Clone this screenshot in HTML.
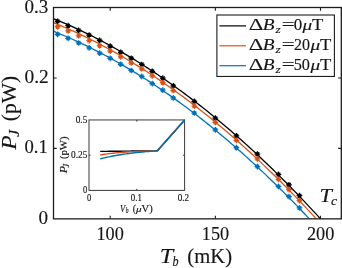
<!DOCTYPE html>
<html><head><meta charset="utf-8"><title>fig</title>
<style>
html,body{margin:0;padding:0;background:#fff;}
body{width:342px;height:268px;overflow:hidden;}
svg{display:block;will-change:transform;}
text{font-family:"Liberation Serif",serif;fill:#161616;stroke:#161616;stroke-width:0.15px;}
.i{font-style:italic;}
.s text{stroke-width:0.15px;}
</style></head><body>
<svg width="342" height="268" viewBox="0 0 342 268">
<rect x="0" y="0" width="342" height="268" fill="#fff"/>

<clipPath id="c"><rect x="53.5" y="7.5" width="287.8" height="211.35"/></clipPath>
<g clip-path="url(#c)">
<polyline points="52.37,18.20 54.47,19.04 56.57,19.90 58.68,20.76 60.78,21.64 62.88,22.53 64.99,23.43 67.09,24.34 69.19,25.27 71.29,26.20 73.40,27.15 75.50,28.11 77.60,29.08 79.71,30.06 81.81,31.06 83.91,32.06 86.02,33.08 88.12,34.10 90.22,35.14 92.32,36.20 94.43,37.26 96.53,38.33 98.63,39.42 100.74,40.52 102.84,41.62 104.94,42.74 107.05,43.88 109.15,45.02 111.25,46.17 113.35,47.34 115.46,48.52 117.56,49.71 119.66,50.91 121.77,52.12 123.87,53.35 125.97,54.58 128.08,55.83 130.18,57.09 132.28,58.36 134.38,59.64 136.49,60.94 138.59,62.24 140.69,63.56 142.80,64.89 144.90,66.23 147.00,67.58 149.11,68.94 151.21,70.31 153.31,71.70 155.41,73.10 157.52,74.51 159.62,75.93 161.72,77.36 163.83,78.80 165.93,80.26 168.03,81.73 170.14,83.20 172.24,84.69 174.34,86.20 176.44,87.71 178.55,89.23 180.65,90.77 182.75,92.32 184.86,93.88 186.96,95.45 189.06,97.03 191.17,98.62 193.27,100.23 195.37,101.85 197.47,103.48 199.58,105.12 201.68,106.77 203.78,108.43 205.89,110.11 207.99,111.79 210.09,113.49 212.20,115.20 214.30,116.92 216.40,118.65 218.50,120.40 220.61,122.15 222.71,123.92 224.81,125.70 226.92,127.49 229.02,129.29 231.12,131.10 233.23,132.93 235.33,134.77 237.43,136.61 239.53,138.47 241.64,140.34 243.74,142.23 245.84,144.12 247.95,146.03 250.05,147.94 252.15,149.87 254.26,151.81 256.36,153.77 258.46,155.73 260.56,157.70 262.67,159.69 264.77,161.69 266.87,163.70 268.98,165.72 271.08,167.75 273.18,169.80 275.29,171.85 277.39,173.92 279.49,176.00 281.59,178.09 283.70,180.19 285.80,182.31 287.90,184.43 290.01,186.57 292.11,188.72 294.21,190.88 296.32,193.05 298.42,195.23 300.52,197.43 302.62,199.63 304.73,201.85 306.83,204.08 308.93,206.32 311.04,208.57 313.14,210.84 315.24,213.11 317.35,215.40 319.45,217.70 320.50,218.85" fill="none" stroke="#000000" stroke-width="1.3"/>
<polyline points="52.37,22.23 54.47,23.08 56.57,23.94 58.68,24.80 60.78,25.68 62.88,26.58 64.99,27.48 67.09,28.40 69.19,29.32 71.29,30.26 73.40,31.21 75.50,32.17 77.60,33.14 79.71,34.13 81.81,35.13 83.91,36.13 86.02,37.15 88.12,38.18 90.22,39.23 92.32,40.28 94.43,41.35 96.53,42.42 98.63,43.51 100.74,44.61 102.84,45.72 104.94,46.85 107.05,47.98 109.15,49.13 111.25,50.29 113.35,51.46 115.46,52.64 117.56,53.83 119.66,55.04 121.77,56.25 123.87,57.48 125.97,58.72 128.08,59.97 130.18,61.23 132.28,62.51 134.38,63.79 136.49,65.09 138.59,66.40 140.69,67.72 142.80,69.05 144.90,70.40 147.00,71.75 149.11,73.12 151.21,74.50 153.31,75.89 155.41,77.29 157.52,78.70 159.62,80.13 161.72,81.56 163.83,83.01 165.93,84.47 168.03,85.94 170.14,87.42 172.24,88.92 174.34,90.42 176.44,91.94 178.55,93.47 180.65,95.01 182.75,96.56 184.86,98.13 186.96,99.70 189.06,101.29 191.17,102.89 193.27,104.50 195.37,106.12 197.47,107.75 199.58,109.40 201.68,111.06 203.78,112.72 205.89,114.40 207.99,116.09 210.09,117.80 212.20,119.51 214.30,121.24 216.40,122.97 218.50,124.72 220.61,126.48 222.71,128.26 224.81,130.04 226.92,131.84 229.02,133.64 231.12,135.46 233.23,137.29 235.33,139.13 237.43,140.99 239.53,142.85 241.64,144.73 243.74,146.62 245.84,148.52 247.95,150.43 250.05,152.35 252.15,154.28 254.26,156.23 256.36,158.19 258.46,160.16 260.56,162.14 262.67,164.13 264.77,166.13 266.87,168.15 268.98,170.18 271.08,172.22 273.18,174.27 275.29,176.33 277.39,178.40 279.49,180.49 281.59,182.58 283.70,184.69 285.80,186.81 287.90,188.94 290.01,191.09 292.11,193.24 294.21,195.41 296.32,197.58 298.42,199.77 300.52,201.97 302.62,204.19 304.73,206.41 306.83,208.65 308.93,210.89 311.04,213.15 313.14,215.42 315.24,217.70 316.29,218.85" fill="none" stroke="#d95319" stroke-width="1.3"/>
<polyline points="52.37,30.80 54.47,31.64 56.57,32.49 58.68,33.35 60.78,34.23 62.88,35.12 64.99,36.02 67.09,36.93 69.19,37.85 71.29,38.78 73.40,39.72 75.50,40.68 77.60,41.65 79.71,42.63 81.81,43.62 83.91,44.62 86.02,45.63 88.12,46.66 90.22,47.70 92.32,48.74 94.43,49.80 96.53,50.87 98.63,51.96 100.74,53.05 102.84,54.16 104.94,55.27 107.05,56.40 109.15,57.54 111.25,58.70 113.35,59.86 115.46,61.03 117.56,62.22 119.66,63.42 121.77,64.63 123.87,65.85 125.97,67.08 128.08,68.33 130.18,69.58 132.28,70.85 134.38,72.13 136.49,73.42 138.59,74.72 140.69,76.03 142.80,77.36 144.90,78.69 147.00,80.04 149.11,81.40 151.21,82.77 153.31,84.15 155.41,85.55 157.52,86.95 159.62,88.37 161.72,89.80 163.83,91.24 165.93,92.69 168.03,94.15 170.14,95.62 172.24,97.11 174.34,98.61 176.44,100.12 178.55,101.64 180.65,103.17 182.75,104.71 184.86,106.27 186.96,107.83 189.06,109.41 191.17,111.00 193.27,112.60 195.37,114.22 197.47,115.84 199.58,117.48 201.68,119.12 203.78,120.78 205.89,122.45 207.99,124.13 210.09,125.83 212.20,127.53 214.30,129.25 216.40,130.98 218.50,132.71 220.61,134.47 222.71,136.23 224.81,138.00 226.92,139.79 229.02,141.58 231.12,143.39 233.23,145.21 235.33,147.04 237.43,148.89 239.53,150.74 241.64,152.61 243.74,154.48 245.84,156.37 247.95,158.27 250.05,160.19 252.15,162.11 254.26,164.05 256.36,165.99 258.46,167.95 260.56,169.92 262.67,171.90 264.77,173.89 266.87,175.90 268.98,177.91 271.08,179.94 273.18,181.98 275.29,184.03 277.39,186.09 279.49,188.17 281.59,190.25 283.70,192.35 285.80,194.45 287.90,196.57 290.01,198.70 292.11,200.85 294.21,203.00 296.32,205.17 298.42,207.34 300.52,209.53 302.62,211.73 304.73,213.94 306.83,216.17 308.93,218.40 309.35,218.85" fill="none" stroke="#0072bd" stroke-width="1.3"/>
<path d="M54.77 21.25L60.48 21.25M55.81 19.44L59.44 23.07M57.62 18.40L57.62 24.10M59.44 19.44L55.81 23.07" stroke="#000000" stroke-width="1.25" fill="none"/>
<path d="M65.29 25.63L70.99 25.63M66.33 23.82L69.95 27.45M68.14 22.78L68.14 28.48M69.95 23.82L66.33 27.45" stroke="#000000" stroke-width="1.25" fill="none"/>
<path d="M75.81 30.44L81.50 30.44M76.84 28.63L80.47 32.26M78.66 27.59L78.66 33.29M80.47 28.63L76.84 32.26" stroke="#000000" stroke-width="1.25" fill="none"/>
<path d="M86.32 35.10L92.02 35.10M87.36 33.29L90.98 36.92M89.17 32.25L89.17 37.95M90.98 33.29L87.36 36.92" stroke="#000000" stroke-width="1.25" fill="none"/>
<path d="M96.84 40.41L102.53 40.41M97.87 38.59L101.50 42.22M99.69 37.56L99.69 43.26M101.50 38.59L97.87 42.22" stroke="#000000" stroke-width="1.25" fill="none"/>
<path d="M107.35 46.21L113.05 46.21M108.39 44.39L112.01 48.02M110.20 43.36L110.20 49.06M112.01 44.39L108.39 48.02" stroke="#000000" stroke-width="1.25" fill="none"/>
<path d="M117.87 52.30L123.56 52.30M118.90 50.49L122.53 54.11M120.72 49.45L120.72 55.15M122.53 50.49L118.90 54.11" stroke="#000000" stroke-width="1.25" fill="none"/>
<path d="M128.38 58.23L134.08 58.23M129.42 56.42L133.04 60.04M131.23 55.38L131.23 61.08M133.04 56.42L129.42 60.04" stroke="#000000" stroke-width="1.25" fill="none"/>
<path d="M138.90 64.48L144.59 64.48M139.93 62.67L143.56 66.30M141.75 61.63L141.75 67.33M143.56 62.67L139.93 66.30" stroke="#000000" stroke-width="1.25" fill="none"/>
<path d="M149.41 71.31L155.11 71.31M150.45 69.50L154.07 73.12M152.26 68.46L152.26 74.16M154.07 69.50L150.45 73.12" stroke="#000000" stroke-width="1.25" fill="none"/>
<path d="M159.93 78.22L165.62 78.22M160.96 76.40L164.59 80.03M162.78 75.37L162.78 81.07M164.59 76.40L160.96 80.03" stroke="#000000" stroke-width="1.25" fill="none"/>
<path d="M170.44 85.76L176.14 85.76M171.48 83.95L175.10 87.57M173.29 82.91L173.29 88.61M175.10 83.95L171.48 87.57" stroke="#000000" stroke-width="1.25" fill="none"/>
<path d="M191.47 101.45L197.17 101.45M192.51 99.63L196.13 103.26M194.32 98.60L194.32 104.30M196.13 99.63L192.51 103.26" stroke="#000000" stroke-width="1.25" fill="none"/>
<path d="M212.50 118.19L218.20 118.19M213.54 116.37L217.16 120.00M215.35 115.34L215.35 121.04M217.16 116.37L213.54 120.00" stroke="#000000" stroke-width="1.25" fill="none"/>
<path d="M233.53 135.78L239.23 135.78M234.57 133.96L238.19 137.59M236.38 132.93L236.38 138.63M238.19 133.96L234.57 137.59" stroke="#000000" stroke-width="1.25" fill="none"/>
<path d="M254.56 154.04L260.26 154.04M255.60 152.22L259.22 155.85M257.41 151.19L257.41 156.89M259.22 152.22L255.60 155.85" stroke="#000000" stroke-width="1.25" fill="none"/>
<path d="M275.59 174.40L281.29 174.40M276.63 172.59L280.25 176.22M278.44 171.55L278.44 177.25M280.25 172.59L276.63 176.22" stroke="#000000" stroke-width="1.25" fill="none"/>
<path d="M286.11 184.87L291.81 184.87M287.14 183.05L290.77 186.68M288.96 182.02L288.96 187.72M290.77 183.05L287.14 186.68" stroke="#000000" stroke-width="1.25" fill="none"/>
<path d="M296.62 195.69L302.32 195.69M297.66 193.88L301.28 197.50M299.47 192.84L299.47 198.54M301.28 193.88L297.66 197.50" stroke="#000000" stroke-width="1.25" fill="none"/>
<path d="M54.77 26.66L60.48 26.66M55.81 24.84L59.44 28.47M57.62 23.81L57.62 29.51M59.44 24.84L55.81 28.47" stroke="#d95319" stroke-width="1.25" fill="none"/>
<path d="M65.29 30.99L70.99 30.99M66.33 29.17L69.95 32.80M68.14 28.14L68.14 33.84M69.95 29.17L66.33 32.80" stroke="#d95319" stroke-width="1.25" fill="none"/>
<path d="M75.81 35.75L81.50 35.75M76.84 33.94L80.47 37.57M78.66 32.90L78.66 38.60M80.47 33.94L76.84 37.57" stroke="#d95319" stroke-width="1.25" fill="none"/>
<path d="M86.32 40.58L92.02 40.58M87.36 38.76L90.98 42.39M89.17 37.73L89.17 43.43M90.98 38.76L87.36 42.39" stroke="#d95319" stroke-width="1.25" fill="none"/>
<path d="M96.84 45.73L102.53 45.73M97.87 43.92L101.50 47.54M99.69 42.88L99.69 48.58M101.50 43.92L97.87 47.54" stroke="#d95319" stroke-width="1.25" fill="none"/>
<path d="M107.35 51.08L113.05 51.08M108.39 49.26L112.01 52.89M110.20 48.23L110.20 53.93M112.01 49.26L108.39 52.89" stroke="#d95319" stroke-width="1.25" fill="none"/>
<path d="M117.87 56.83L123.56 56.83M118.90 55.01L122.53 58.64M120.72 53.98L120.72 59.68M122.53 55.01L118.90 58.64" stroke="#d95319" stroke-width="1.25" fill="none"/>
<path d="M128.38 62.88L134.08 62.88M129.42 61.06L133.04 64.69M131.23 60.03L131.23 65.73M133.04 61.06L129.42 64.69" stroke="#d95319" stroke-width="1.25" fill="none"/>
<path d="M138.90 68.94L144.59 68.94M139.93 67.13L143.56 70.76M141.75 66.09L141.75 71.79M143.56 67.13L139.93 70.76" stroke="#d95319" stroke-width="1.25" fill="none"/>
<path d="M149.41 75.80L155.11 75.80M150.45 73.99L154.07 77.61M152.26 72.95L152.26 78.65M154.07 73.99L150.45 77.61" stroke="#d95319" stroke-width="1.25" fill="none"/>
<path d="M159.93 82.64L165.62 82.64M160.96 80.82L164.59 84.45M162.78 79.79L162.78 85.49M164.59 80.82L160.96 84.45" stroke="#d95319" stroke-width="1.25" fill="none"/>
<path d="M170.44 90.51L176.14 90.51M171.48 88.70L175.10 92.32M173.29 87.66L173.29 93.36M175.10 88.70L171.48 92.32" stroke="#d95319" stroke-width="1.25" fill="none"/>
<path d="M191.47 106.10L197.17 106.10M192.51 104.28L196.13 107.91M194.32 103.25L194.32 108.95M196.13 104.28L192.51 107.91" stroke="#d95319" stroke-width="1.25" fill="none"/>
<path d="M212.50 122.46L218.20 122.46M213.54 120.65L217.16 124.27M215.35 119.61L215.35 125.31M217.16 120.65L213.54 124.27" stroke="#d95319" stroke-width="1.25" fill="none"/>
<path d="M233.53 140.29L239.23 140.29M234.57 138.48L238.19 142.11M236.38 137.44L236.38 143.14M238.19 138.48L234.57 142.11" stroke="#d95319" stroke-width="1.25" fill="none"/>
<path d="M254.56 158.87L260.26 158.87M255.60 157.05L259.22 160.68M257.41 156.02L257.41 161.72M259.22 157.05L255.60 160.68" stroke="#d95319" stroke-width="1.25" fill="none"/>
<path d="M275.59 179.30L281.29 179.30M276.63 177.48L280.25 181.11M278.44 176.45L278.44 182.15M280.25 177.48L276.63 181.11" stroke="#d95319" stroke-width="1.25" fill="none"/>
<path d="M286.11 189.61L291.81 189.61M287.14 187.79L290.77 191.42M288.96 186.76L288.96 192.46M290.77 187.79L287.14 191.42" stroke="#d95319" stroke-width="1.25" fill="none"/>
<path d="M296.62 200.60L302.32 200.60M297.66 198.79L301.28 202.42M299.47 197.75L299.47 203.45M301.28 198.79L297.66 202.42" stroke="#d95319" stroke-width="1.25" fill="none"/>
<path d="M54.77 34.32L60.48 34.32M55.81 32.51L59.44 36.14M57.62 31.47L57.62 37.17M59.44 32.51L55.81 36.14" stroke="#0072bd" stroke-width="1.25" fill="none"/>
<path d="M65.29 38.28L70.99 38.28M66.33 36.46L69.95 40.09M68.14 35.43L68.14 41.13M69.95 36.46L66.33 40.09" stroke="#0072bd" stroke-width="1.25" fill="none"/>
<path d="M75.81 42.98L81.50 42.98M76.84 41.17L80.47 44.80M78.66 40.13L78.66 45.83M80.47 41.17L76.84 44.80" stroke="#0072bd" stroke-width="1.25" fill="none"/>
<path d="M86.32 47.81L92.02 47.81M87.36 46.00L90.98 49.63M89.17 44.96L89.17 50.66M90.98 46.00L87.36 49.63" stroke="#0072bd" stroke-width="1.25" fill="none"/>
<path d="M96.84 53.22L102.53 53.22M97.87 51.40L101.50 55.03M99.69 50.37L99.69 56.07M101.50 51.40L97.87 55.03" stroke="#0072bd" stroke-width="1.25" fill="none"/>
<path d="M107.35 58.32L113.05 58.32M108.39 56.51L112.01 60.14M110.20 55.47L110.20 61.17M112.01 56.51L108.39 60.14" stroke="#0072bd" stroke-width="1.25" fill="none"/>
<path d="M117.87 64.25L123.56 64.25M118.90 62.44L122.53 66.06M120.72 61.40L120.72 67.10M122.53 62.44L118.90 66.06" stroke="#0072bd" stroke-width="1.25" fill="none"/>
<path d="M128.38 70.48L134.08 70.48M129.42 68.66L133.04 72.29M131.23 67.63L131.23 73.33M133.04 68.66L129.42 72.29" stroke="#0072bd" stroke-width="1.25" fill="none"/>
<path d="M138.90 76.47L144.59 76.47M139.93 74.66L143.56 78.29M141.75 73.62L141.75 79.32M143.56 74.66L139.93 78.29" stroke="#0072bd" stroke-width="1.25" fill="none"/>
<path d="M149.41 83.54L155.11 83.54M150.45 81.72L154.07 85.35M152.26 80.69L152.26 86.39M154.07 81.72L150.45 85.35" stroke="#0072bd" stroke-width="1.25" fill="none"/>
<path d="M159.93 90.16L165.62 90.16M160.96 88.35L164.59 91.98M162.78 87.31L162.78 93.01M164.59 88.35L160.96 91.98" stroke="#0072bd" stroke-width="1.25" fill="none"/>
<path d="M170.44 97.89L176.14 97.89M171.48 96.07L175.10 99.70M173.29 95.04L173.29 100.74M175.10 96.07L171.48 99.70" stroke="#0072bd" stroke-width="1.25" fill="none"/>
<path d="M191.47 113.01L197.17 113.01M192.51 111.19L196.13 114.82M194.32 110.16L194.32 115.86M196.13 111.19L192.51 114.82" stroke="#0072bd" stroke-width="1.25" fill="none"/>
<path d="M212.50 129.84L218.20 129.84M213.54 128.03L217.16 131.65M215.35 126.99L215.35 132.69M217.16 128.03L213.54 131.65" stroke="#0072bd" stroke-width="1.25" fill="none"/>
<path d="M233.53 147.65L239.23 147.65M234.57 145.83L238.19 149.46M236.38 144.80L236.38 150.50M238.19 145.83L234.57 149.46" stroke="#0072bd" stroke-width="1.25" fill="none"/>
<path d="M254.56 166.54L260.26 166.54M255.60 164.72L259.22 168.35M257.41 163.69L257.41 169.39M259.22 164.72L255.60 168.35" stroke="#0072bd" stroke-width="1.25" fill="none"/>
<path d="M275.59 186.41L281.29 186.41M276.63 184.59L280.25 188.22M278.44 183.56L278.44 189.26M280.25 184.59L276.63 188.22" stroke="#0072bd" stroke-width="1.25" fill="none"/>
<path d="M286.11 196.56L291.81 196.56M287.14 194.74L290.77 198.37M288.96 193.71L288.96 199.41M290.77 194.74L287.14 198.37" stroke="#0072bd" stroke-width="1.25" fill="none"/>
<path d="M296.62 207.88L302.32 207.88M297.66 206.07L301.28 209.69M299.47 205.03L299.47 210.73M301.28 206.07L297.66 209.69" stroke="#0072bd" stroke-width="1.25" fill="none"/>
</g>
<rect x="53.5" y="7.5" width="287.8" height="211.35" fill="none" stroke="#1c1c1c" stroke-width="1.3"/>
<path d="M110.20 218.85V215.65M110.20 7.5V10.7M215.35 218.85V215.65M215.35 7.5V10.7M320.50 218.85V215.65M320.50 7.5V10.7M53.5 148.40H56.7M341.3 148.40H338.1M53.5 77.95H56.7M341.3 77.95H338.1" stroke="#1c1c1c" stroke-width="1.1" fill="none"/>
<text transform="translate(96.50,239.60) scale(0.971,1)" font-size="18.80">100</text>
<text transform="translate(201.81,239.60) scale(0.967,1)" font-size="18.80">150</text>
<text transform="translate(306.88,239.60) scale(0.972,1)" font-size="18.80">200</text>
<text transform="translate(38.59,223.70) scale(1.014,1)" font-size="18.80">0</text>
<text transform="translate(24.50,153.25) scale(0.992,1)" font-size="18.80">0.1</text>
<text transform="translate(24.47,82.80) scale(1.030,1)" font-size="18.80">0.2</text>
<text transform="translate(24.49,12.65) scale(1.012,1)" font-size="18.80">0.3</text>
<text class="i" transform="translate(159.83,263.00) scale(1.148,1)" font-size="21.07">T</text>
<text class="i" transform="translate(172.45,265.60) scale(0.853,1)" font-size="14.10">b</text>
<text transform="translate(187.37,263.00) scale(0.980,1)" font-size="21.07">(mK)</text>
<g transform="translate(15.6,149.9) rotate(-90)">
<text class="i" transform="translate(0.22,0.00) scale(1.079,1)" font-size="21.83">P</text>
<text class="i" transform="translate(12.96,3.10) scale(1.065,1)" font-size="15.27">J</text>
<text transform="translate(28.63,0.00) scale(0.985,1)" font-size="21.83">(pW)</text>
</g>
<text class="i" transform="translate(319.55,201.90) scale(1.221,1)" font-size="18.32">T</text>
<text class="i" transform="translate(331.09,204.70) scale(1.070,1)" font-size="12.77">c</text>
<rect x="216.9" y="15" width="117.50" height="61.45" fill="#fff" stroke="#1c1c1c" stroke-width="1.1"/>
<path d="M219.4 25.90H246.0" stroke="#000000" stroke-width="1.2"/>
<text transform="translate(248.75,30.20) scale(1.328,1)" font-size="17.12">Δ</text>
<text class="i" transform="translate(262.81,30.20) scale(1.119,1)" font-size="17.25">B</text>
<text class="i" transform="translate(275.44,32.90) scale(1.195,1)" font-size="11.30">z</text>
<text transform="translate(281.75,30.20) scale(1.354,1)" font-size="16.99">=</text>
<text transform="translate(293.76,30.20) scale(0.997,1)" font-size="16.99">0</text>
<text class="i" transform="translate(302.40,30.20) scale(1.265,1)" font-size="15.22">μ</text>
<text transform="translate(311.98,30.20) scale(1.074,1)" font-size="17.25">T</text>
<path d="M219.4 45.80H246.0" stroke="#d95319" stroke-width="1.2"/>
<text transform="translate(248.75,50.10) scale(1.328,1)" font-size="17.12">Δ</text>
<text class="i" transform="translate(262.81,50.10) scale(1.119,1)" font-size="17.25">B</text>
<text class="i" transform="translate(275.44,52.80) scale(1.195,1)" font-size="11.30">z</text>
<text transform="translate(281.75,50.10) scale(1.354,1)" font-size="16.99">=</text>
<text transform="translate(293.88,50.10) scale(0.943,1)" font-size="16.99">20</text>
<text class="i" transform="translate(310.50,50.10) scale(1.265,1)" font-size="15.22">μ</text>
<text transform="translate(320.08,50.10) scale(1.074,1)" font-size="17.25">T</text>
<path d="M219.4 65.70H246.0" stroke="#0072bd" stroke-width="1.2"/>
<text transform="translate(248.75,70.00) scale(1.328,1)" font-size="17.12">Δ</text>
<text class="i" transform="translate(262.81,70.00) scale(1.119,1)" font-size="17.25">B</text>
<text class="i" transform="translate(275.44,72.70) scale(1.195,1)" font-size="11.30">z</text>
<text transform="translate(281.75,70.00) scale(1.354,1)" font-size="16.99">=</text>
<text transform="translate(293.67,70.00) scale(0.956,1)" font-size="16.99">50</text>
<text class="i" transform="translate(310.50,70.00) scale(1.265,1)" font-size="15.22">μ</text>
<text transform="translate(320.08,70.00) scale(1.074,1)" font-size="17.25">T</text>
<rect x="89.0" y="119.95" width="95.6" height="70.45" fill="#fff" stroke="#3a3a3a" stroke-width="1"/>
<polyline points="100.20,151.40 101.63,151.39 103.06,151.37 104.49,151.36 105.92,151.34 107.35,151.33 108.78,151.31 110.21,151.30 111.64,151.28 113.07,151.27 114.50,151.25 115.93,151.24 117.36,151.22 118.79,151.21 120.22,151.19 121.65,151.18 123.08,151.16 124.51,151.15 125.94,151.13 127.37,151.12 128.80,151.10 130.23,151.09 131.66,151.07 133.09,151.06 134.52,151.04 135.95,151.03 137.38,151.01 138.81,151.00 140.24,150.98 141.67,150.97 143.10,150.95 144.53,150.94 145.96,150.92 147.39,150.91 148.82,150.89 150.25,150.88 151.68,150.86 153.11,150.84 154.54,150.83 155.97,150.81 157.40,150.80 184.60,119.95" fill="none" stroke="#000000" stroke-width="1.4" stroke-linejoin="round"/>
<polyline points="100.20,155.00 101.63,154.75 103.06,154.51 104.49,154.28 105.92,154.07 107.35,153.87 108.78,153.68 110.21,153.51 111.64,153.34 113.07,153.18 114.50,153.03 115.93,152.89 117.36,152.75 118.79,152.62 120.22,152.50 121.65,152.39 123.08,152.28 124.51,152.18 125.94,152.08 127.37,151.99 128.80,151.90 130.23,151.82 131.66,151.74 133.09,151.66 134.52,151.59 135.95,151.53 137.38,151.46 138.81,151.40 140.24,151.34 141.67,151.28 143.10,151.23 144.53,151.18 145.96,151.13 147.39,151.08 148.82,151.04 150.25,150.99 151.68,150.95 153.11,150.91 154.54,150.87 155.97,150.84 157.40,150.80 184.60,119.95" fill="none" stroke="#d95319" stroke-width="1.4" stroke-linejoin="round"/>
<polyline points="100.20,158.90 101.63,158.53 103.06,158.17 104.49,157.83 105.92,157.50 107.35,157.17 108.78,156.86 110.21,156.57 111.64,156.28 113.07,156.00 114.50,155.73 115.93,155.47 117.36,155.22 118.79,154.98 120.22,154.75 121.65,154.52 123.08,154.30 124.51,154.09 125.94,153.89 127.37,153.70 128.80,153.51 130.23,153.32 131.66,153.15 133.09,152.98 134.52,152.81 135.95,152.65 137.38,152.50 138.81,152.35 140.24,152.20 141.67,152.06 143.10,151.93 144.53,151.80 145.96,151.67 147.39,151.55 148.82,151.43 150.25,151.32 151.68,151.21 153.11,151.10 154.54,151.00 155.97,150.90 157.40,150.80 184.60,119.95" fill="none" stroke="#0072bd" stroke-width="1.4" stroke-linejoin="round"/>
<path d="M136.80 190.4V188.8M136.80 119.95V121.55M89.0 155.18H90.6M184.6 155.18H183.0" stroke="#3a3a3a" stroke-width="1" fill="none"/>
<g class="s">
<text transform="translate(87.08,200.50) scale(0.909,1)" font-size="9.32">0</text>
<text transform="translate(130.77,200.50) scale(0.949,1)" font-size="9.32">0.1</text>
<text transform="translate(177.76,200.50) scale(0.982,1)" font-size="9.32">0.2</text>
<text transform="translate(82.98,193.00) scale(0.909,1)" font-size="9.32">0</text>
<text transform="translate(71.05,157.50) scale(1.000,1)" font-size="9.32">0.25</text>
<text transform="translate(75.65,122.50) scale(1.006,1)" font-size="9.32">0.5</text>
<text class="i" transform="translate(120.05,212.10) scale(0.812,1)" font-size="10.53">V</text>
<text class="i" transform="translate(125.79,213.20) scale(0.771,1)" font-size="7.19">b</text>
<text transform="translate(132.66,212.10) scale(0.904,1)" font-size="10.84">(</text>
<text class="i" transform="translate(136.00,212.10) scale(1.312,1)" font-size="8.48">μ</text>
<text transform="translate(141.59,212.10) scale(1.004,1)" font-size="10.53">V)</text>
<g transform="translate(67.1,173.6) rotate(-90)">
<text class="i" transform="translate(0.26,0.00) scale(1.142,1)" font-size="10.53">P</text>
<text class="i" transform="translate(6.18,1.60) scale(1.109,1)" font-size="7.33">J</text>
<text transform="translate(14.51,0.00) scale(1.023,1)" font-size="10.53">(pW)</text>
</g>
</g>
</svg></body></html>
